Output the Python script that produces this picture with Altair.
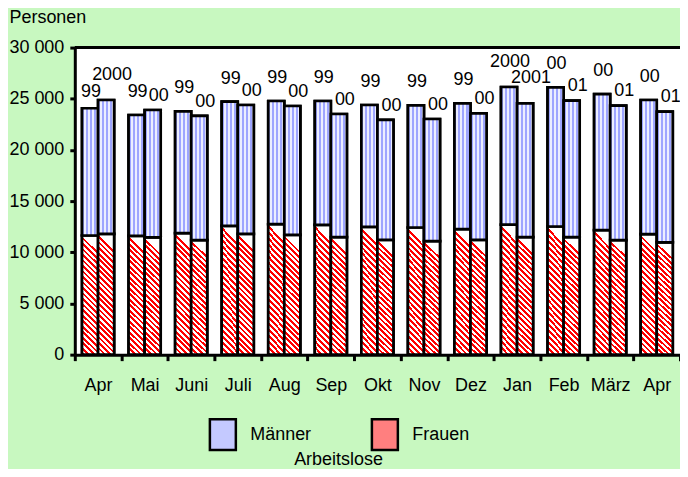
import altair as alt
import pandas as pd

# ---- data ----
months = ["Apr", "Mai", "Juni", "Juli", "Aug", "Sep", "Okt", "Nov", "Dez", "Jan", "Feb", "März", "Apr"]
labels_a = ["99", "99", "99", "99", "99", "99", "99", "99", "99", "2000", "00", "00", "00"]
labels_b = ["2000", "00", "00", "00", "00", "00", "00", "00", "00", "2001", "01", "01", "01"]
frauen_a = [11640, 11610, 11870, 12590, 12750, 12680, 12490, 12420, 12260, 12710, 12520, 12160, 11770]
frauen_b = [11800, 11450, 11190, 11800, 11710, 11480, 11220, 11090, 11220, 11480, 11480, 11190, 10960]
maenner_a = [12430, 11800, 11900, 12120, 12030, 12100, 11900, 11940, 12290, 13440, 13590, 13300, 13110]
maenner_b = [13080, 12450, 12130, 12590, 12580, 12030, 11710, 11930, 12360, 13070, 13330, 13140, 12780]
y_ticks = [0, 5000, 10000, 15000, 20000, 25000, 30000]
series = ["Männer", "Frauen"]

rows = []
for i in range(len(months)):
    for yr, lab, f, m in ((0, labels_a[i], frauen_a[i], maenner_a[i]),
                          (1, labels_b[i], frauen_b[i], maenner_b[i])):
        rows.append(dict(idx=i, yr=yr, lab=lab, group="Frauen", lo=0, hi=f))
        rows.append(dict(idx=i, yr=yr, lab=lab, group="Männer", lo=f, hi=f + m))
df = pd.DataFrame(rows)

tot = df[df.group == "Männer"][["idx", "yr", "lab", "hi"]].reset_index(drop=True)
# label lift above the bar (in data units), chosen by simple rule to avoid collisions
partner_len = {(r.idx, r.yr): len(r.lab) for r in tot.itertuples()}
def lift(r):
    if len(r.lab) == 4:
        return 2000
    if r.yr == 0:
        return 1100 if partner_len[(r.idx, 1)] == 4 else 1750
    return 900
tot["rz"] = [lift(r) for r in tot.itertuples()]
top = pd.DataFrame({"v": [y_ticks[-1]]})

FONT = "Liberation Sans"
month_js = "[" + ",".join("'%s'" % m for m in months) + "]"

# ---- fills (pattern imitation with gradients) ----
def stripes(c1, c2, n, x1, y1, x2, y2):
    stops = []
    for k in range(n):
        a, b, c = k / n, (k + 0.5) / n, (k + 1) / n
        stops += [{"offset": a, "color": c1}, {"offset": b, "color": c1},
                  {"offset": b, "color": c2}, {"offset": c, "color": c2}]
    return {"gradient": "linear", "x1": x1, "y1": y1, "x2": x2, "y2": y2, "stops": stops}

red_fill = stripes("#ff0000", "#ffffff", 22, 0, 1, 0.133, 0)
blue_fill = stripes("#9ea5ff", "#eceeff", 4, 0, 0, 1, 0)

PLOT_L = 67  # plot left inside the chart
X = alt.X(
    "idx:O",
    scale=alt.Scale(paddingInner=0, paddingOuter=0),
    axis=alt.Axis(
        title="Arbeitslose", titleX=264, titleY=110, titleAlign="center",
        titleBaseline="alphabetic", titleFontSize=18, titleFontWeight="normal",
        titleFont=FONT, titleColor="black",
        labelExpr=month_js + "[datum.value]", labelAngle=0, labelPadding=16,
        tickBand="extent", tickSize=6,
    ),
)
XO = alt.XOffset("yr:O", scale=alt.Scale(paddingInner=0, paddingOuter=0.45))
y_scale = alt.Scale(domain=[0, 30000], nice=False, zero=True)
y_axis = alt.Axis(
    values=y_ticks, title="Personen", titleAngle=0, titleX=-66, titleY=-25,
    titleAlign="left", titleBaseline="alphabetic", titleFontSize=18,
    titleFontWeight="normal", titleFont=FONT, titleColor="black",
    labelExpr="replace(format(datum.value, ','), ',', ' ')",
    labelPadding=6, tickSize=5, grid=False,
)

def Y(field):
    return alt.Y(field, scale=y_scale, axis=y_axis, title="Personen")

base_bars = alt.Chart(df).mark_bar(stroke="black", strokeWidth=2.7).encode(
    x=X, xOffset=XO, y=Y("lo:Q"), y2="hi:Q",
    color=alt.Color(
        "group:N",
        scale=alt.Scale(domain=series, range=["#c4c9ff", "#ff7f7f"]),
        legend=alt.Legend(
            orient="none", legendX=131.5, legendY=371, direction="horizontal",
            title=None, symbolType="M-0.84,-1H0.84V1H-0.84Z", symbolSize=961,
            symbolStrokeColor="black", symbolStrokeWidth=2.5, symbolOpacity=1,
            labelFontSize=18, labelFont=FONT, labelColor="black",
            labelOffset=10.5, columnPadding=54.5, padding=0,
        ),
    ),
)

fr_bars = alt.Chart(df).transform_filter("datum.group == 'Frauen'").mark_bar(
    fill=red_fill, stroke="black", strokeWidth=2.7
).encode(x=X, xOffset=XO, y=Y("lo:Q"), y2="hi:Q")

ma_bars = alt.Chart(df).transform_filter("datum.group == 'Männer'").mark_bar(
    fill=blue_fill, stroke="black", strokeWidth=2.7
).encode(x=X, xOffset=XO, y=Y("lo:Q"), y2="hi:Q")

def label_layer(yr, dx):
    return alt.Chart(tot).transform_filter("datum.yr == %d" % yr).transform_calculate(
        ly="datum.hi + datum.rz"
    ).mark_text(fontSize=18, font=FONT, color="black", baseline="alphabetic",
                align="center", dx=dx).encode(
        x=X, xOffset=XO, y=Y("ly:Q"), text="lab:N"
    )

top_rule = alt.Chart(top).mark_rule(color="black", strokeWidth=3).encode(y=Y("v:Q"))

chart = alt.layer(base_bars, fr_bars, ma_bars, label_layer(0, 1), label_layer(1, 6), top_rule).properties(
    width=607, height=308,
    autosize=alt.AutoSizeParams(type="none"),
    padding={"left": PLOT_L, "top": 39, "right": 0, "bottom": 114},
).configure(
    background="#c8f8c0", font=FONT
).configure_view(
    fill="white", stroke=None
).configure_axis(
    domainColor="black", domainWidth=3, tickColor="black", tickWidth=3,
    labelColor="black", labelFont=FONT, labelFontSize=18, grid=False,
)

chart.save("out.html", embed_options={"renderer": "svg", "actions": False})
